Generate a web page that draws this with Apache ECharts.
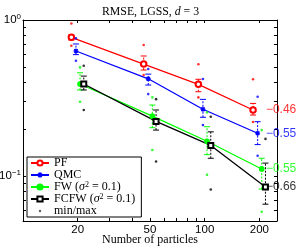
<!DOCTYPE html>
<html><head><meta charset="utf-8">
<script src="https://cdn.jsdelivr.net/npm/echarts@6/dist/echarts.min.js"></script>
<style>html,body{margin:0;padding:0;background:#fff}#c{width:299px;height:248px}</style>
</head><body><div id="c"></div>
<script>
// ---- data ----
const particles = [20, 50, 100, 200];
const seriesNames = ['PF', 'QMC', 'FW', 'FCFW'];
const pfMean  = [0.774, 0.522, 0.387, 0.265];
const pfLow   = [0.744, 0.478, 0.347, 0.246];
const pfHigh  = [0.801, 0.588, 0.417, 0.292];
const pfMin   = [0.684, 0.444, 0.319, 0.222];
const pfMax   = [0.950, 0.692, 0.520, 0.417];
const qmcMean = [0.633, 0.420, 0.268, 0.188];
const qmcLow  = [0.600, 0.383, 0.238, 0.159];
const qmcHigh = [0.702, 0.450, 0.310, 0.223];
const qmcMin  = [0.548, 0.335, 0.212, 0.135];
const qmcMax  = [0.763, 0.485, 0.419, 0.322];
const fwMean  = [0.389, 0.242, 0.167, 0.111];
const fwLow   = [0.356, 0.204, 0.137, 0.0825];
const fwHigh  = [0.459, 0.285, 0.207, 0.130];
const fwMin   = [0.299, 0.147, 0.102, 0.059];
const fwMax   = [0.497, 0.319, 0.256, 0.197];
const fcMean  = [0.389, 0.224, 0.157, 0.085];
const fcLow   = [0.356, 0.197, 0.130, 0.066];
const fcHigh  = [0.437, 0.265, 0.192, 0.121];
const fcMin   = [0.265, 0.124, 0.082, 0.045];
const fcMax   = [0.509, 0.311, 0.240, 0.173];
const rateLabels = ['\u22120.46', '\u22120.55', '\u22120.55', '\u22120.66'];
const xTickLabels = [20, 50, 100, 200];
const yTickLabels = [0.1, 1];

// ---- styling ----
const colors = ['#ff0000', '#0000ff', '#00ff00', '#000000'];
const jitter = [0.923, 0.978, 1.03, 1.08];
const rateLabelX = 220;
const xMinorTicks = [20, 30, 40, 50, 60, 70, 80, 90, 100, 200];
const yMinorTicks = [0.06, 0.07, 0.08, 0.09, 0.1, 0.2, 0.3, 0.4, 0.5, 0.6, 0.7, 0.8, 0.9, 1];

const means = [pfMean, qmcMean, fwMean, fcMean];
const lows = [pfLow, qmcLow, fwLow, fcLow];
const highs = [pfHigh, qmcHigh, fwHigh, fcHigh];
const mins = [pfMin, qmcMin, fwMin, fcMin];
const maxs = [pfMax, qmcMax, fwMax, fcMax];
const symbols = ['emptyCircle', 'path://M5,0V10M0,5H10M1.5,1.5L8.5,8.5M8.5,1.5L1.5,8.5', 'circle', 'emptyRect'];
const symSizes = [5.5, 5, 4.5, 5];

const series = [];
for (let k = 0; k < 4; k++) {
  const c = colors[k];
  series.push({
    type: 'custom', name: seriesNames[k] + ' err', silent: true, z: 2,
    data: particles.map((n, i) => [n * jitter[k], lows[k][i], highs[k][i]]),
    encode: { x: 0, y: [1, 2] },
    renderItem: function (params, api) {
      const x = api.value(0);
      const p1 = api.coord([x, api.value(1)]);
      const p2 = api.coord([x, api.value(2)]);
      const w = 3;
      const dash = { stroke: c, lineWidth: 1, lineDash: [2, 1.5] };
      const solid = { stroke: c, lineWidth: 1 };
      return { type: 'group', children: [
        { type: 'line', shape: { x1: p1[0], y1: p1[1], x2: p2[0], y2: p2[1] }, style: dash },
        { type: 'line', shape: { x1: p1[0] - w, y1: p1[1], x2: p1[0] + w, y2: p1[1] }, style: solid },
        { type: 'line', shape: { x1: p2[0] - w, y1: p2[1], x2: p2[0] + w, y2: p2[1] }, style: solid }
      ]};
    }
  });
  series.push({
    type: 'line', name: seriesNames[k], z: 3,
    data: particles.map((n, i) => [n * jitter[k], means[k][i]]),
    symbol: symbols[k], symbolSize: symSizes[k], showAllSymbol: true,
    lineStyle: { color: c, width: 1.3 },
    itemStyle: { color: c, borderColor: c, borderWidth: 1.2 }
  });
  series.push({
    type: 'scatter', name: seriesNames[k] + ' minmax', z: 3,
    symbol: 'circle', symbolSize: 2.6,
    itemStyle: { color: c },
    data: particles.map((n, i) => [n * jitter[k], maxs[k][i]])
      .concat(particles.map((n, i) => [n * jitter[k], mins[k][i]]))
  });
}
series.push({
  type: 'scatter', name: 'min/max', data: [], itemStyle: { color: '#333' }
});
series.push({
  type: 'scatter', name: 'rates', symbolSize: 0, z: 4, silent: true,
  data: means.map((m, k) => ({
    value: [rateLabelX, m[m.length - 1]],
    label: { color: colors[k], formatter: rateLabels[k] }
  })),
  label: { show: true, position: 'right', distance: -1, fontFamily: 'Liberation Sans', fontSize: 12 }
});

const sup = { fontSize: 8, verticalAlign: 'top', lineHeight: 8, fontFamily: 'Liberation Serif' };
const legendNames = {
  'PF': 'PF',
  'QMC': 'QMC',
  'FW': 'FW ({i|\u03c3}{s|2} = 0.1)',
  'FCFW': 'FCFW ({i|\u03c3}{s|2} = 0.1)',
  'min/max': 'min/max'
};

function logAxisCommon(extra) {
  return Object.assign({
    type: 'log', logBase: 10,
    axisLine: { show: true, lineStyle: { color: '#000', width: 1 } },
    splitLine: { show: false },
    minorTick: { show: false },
    minorSplitLine: { show: false }
  }, extra);
}

const option = {
  animation: false,
  title: {
    text: '{n|RMSE, LGSS, }{i|d}{n| = 3}',
    left: 97, top: 1,
    textStyle: {
      fontWeight: 'normal',
      rich: {
        n: { fontFamily: 'Liberation Serif', fontSize: 11.8, fontWeight: 'normal', color: '#000' },
        i: { fontFamily: 'Liberation Serif', fontSize: 11.8, fontWeight: 'normal', fontStyle: 'italic', color: '#000' }
      }
    }
  },
  grid: { left: 23, top: 20, right: 22, bottom: 27, containLabel: false, outerBoundsMode: 'none' },
  xAxis: [
    logAxisCommon({
      min: 10, max: 250, position: 'bottom',
      name: 'Number of particles', nameLocation: 'middle', nameGap: 13, nameMoveOverlap: false,
      nameTextStyle: { fontFamily: 'Liberation Serif', fontSize: 12, color: '#000' },
      axisTick: { show: true, inside: true, length: 3, customValues: xMinorTicks, lineStyle: { color: '#000' } },
      axisLabel: { show: true, customValues: xTickLabels, margin: 3, color: '#000',
        fontFamily: 'Liberation Sans', fontSize: 11.5, formatter: v => String(Math.round(v)) }
    }),
    logAxisCommon({
      min: 10, max: 250, position: 'top',
      axisTick: { show: true, inside: true, length: 3, customValues: xMinorTicks, lineStyle: { color: '#000' } },
      axisLabel: { show: false }
    })
  ],
  yAxis: [
    logAxisCommon({
      min: 0.0515, max: 1, position: 'left',
      axisTick: { show: true, inside: true, length: 3, customValues: yMinorTicks, lineStyle: { color: '#000' } },
      axisLabel: { show: true, customValues: yTickLabels, margin: 2, color: '#000',
        formatter: v => '{b|10}{s|' + (Math.round(Math.log10(v)) === 0 ? '0' : '\u22121') + '}',
        rich: {
          b: { fontFamily: 'Liberation Sans', fontSize: 11.5, color: '#000', lineHeight: 14 },
          s: { fontFamily: 'Liberation Sans', fontSize: 8, color: '#000', verticalAlign: 'top', lineHeight: 8 }
        }
      }
    }),
    logAxisCommon({
      min: 0.0515, max: 1, position: 'right',
      axisTick: { show: true, inside: true, length: 3, customValues: yMinorTicks, lineStyle: { color: '#000' } },
      axisLabel: { show: false }
    })
  ],
  legend: {
    orient: 'vertical', left: 27, top: 157,
    padding: [0, 6, 0, 3], itemGap: 0,
    itemWidth: 18, itemHeight: 6.5,
    backgroundColor: '#fff', borderColor: '#000', borderWidth: 1, borderRadius: 0,
    z: 10,
    data: [
      { name: 'PF' }, { name: 'QMC' }, { name: 'FW' }, { name: 'FCFW' },
      { name: 'min/max', icon: 'path://M0,0M10,10M3.2,5a1.8,1.8 0 1,0 3.6,0a1.8,1.8 0 1,0 -3.6,0z' }
    ],
    formatter: name => legendNames[name],
    textStyle: {
      fontFamily: 'Liberation Serif', fontSize: 12, color: '#000', lineHeight: 12,
      rich: {
        i: { fontFamily: 'Liberation Serif', fontSize: 12, fontStyle: 'italic', color: '#000', lineHeight: 12 },
        s: Object.assign({ color: '#000' }, sup)
      }
    }
  },
  series: series
};

const chart = echarts.init(document.getElementById('c'), null, { renderer: 'canvas' });
chart.setOption(option);
</script>
</body></html>
